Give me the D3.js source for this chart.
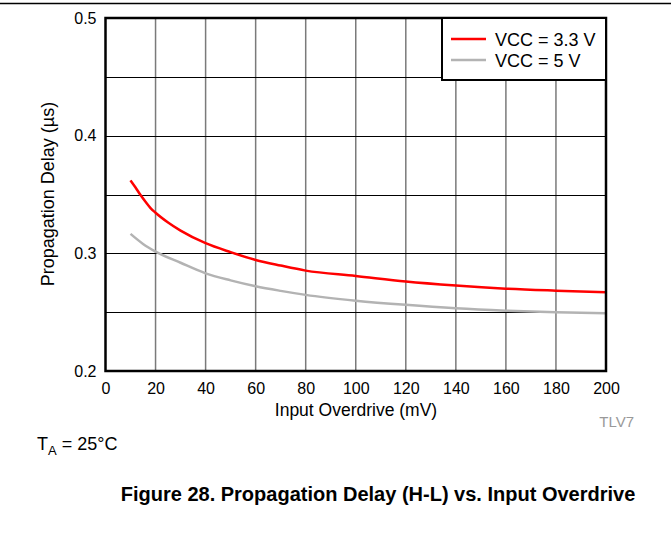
<!DOCTYPE html>
<html>
<head>
<meta charset="utf-8">
<script src="https://cdn.jsdelivr.net/npm/d3@7/dist/d3.min.js"></script>
<style>
  html, body { margin: 0; padding: 0; background: #fff; }
  svg { display: block; font-family: "Liberation Sans", Arial, sans-serif; }
</style>
</head>
<body>
<svg id="chart" width="671" height="535"></svg>
<script>
// ---- data ----
const overdrive33 = [10, 12, 14, 16, 18, 20, 25, 30, 40, 50, 60, 70, 80, 100, 120, 140, 160, 180, 200];
const delay33     = [0.362, 0.356, 0.3495, 0.3438, 0.3385, 0.3345, 0.3262, 0.3193, 0.3086, 0.301, 0.2944, 0.2896, 0.2853, 0.2808, 0.2760, 0.2726, 0.2700, 0.2683, 0.2669];
const overdrive5  = [10, 15, 20, 30, 40, 50, 60, 70, 80, 100, 120, 140, 160, 180, 200];
const delay5      = [0.3165, 0.308, 0.3015, 0.292, 0.283, 0.277, 0.2720, 0.2681, 0.2647, 0.2598, 0.2562, 0.2533, 0.2513, 0.2499, 0.2491];
const xTicks = [0, 20, 40, 60, 80, 100, 120, 140, 160, 180, 200];
const yTicks = [0.2, 0.3, 0.4, 0.5];
const yGrid  = [0.25, 0.3, 0.35, 0.4, 0.45];
const seriesNames = ["VCC = 3.3 V", "VCC = 5 V"];
const seriesColors = ["#ff0000", "#b3b3b3"];

const svg = d3.select("#chart");
const x = d3.scaleLinear().domain([0, 200]).range([105.5, 606]);
const y = d3.scaleLinear().domain([0.2, 0.5]).range([371, 18]);

// top rule
svg.append("line").attr("x1", 0).attr("x2", 671).attr("y1", 3.5).attr("y2", 3.5)
  .attr("stroke", "#000").attr("stroke-width", 1.5);

// vertical grid
svg.append("g").selectAll("line").data(xTicks.slice(1, -1)).join("line")
  .attr("x1", d => x(d)).attr("x2", d => x(d))
  .attr("y1", y(0.5)).attr("y2", y(0.2))
  .attr("stroke", "#7a7a7a").attr("stroke-width", 1.5);

// horizontal grid
svg.append("g").selectAll("line").data(yGrid).join("line")
  .attr("x1", x(0)).attr("x2", x(200))
  .attr("y1", d => Math.round(y(d)) + 0.5).attr("y2", d => Math.round(y(d)) + 0.5)
  .attr("stroke", "#000").attr("stroke-width", 1);

// curves
const line = d3.line().x(d => x(d[0])).y(d => y(d[1])).curve(d3.curveMonotoneX);
const s33 = overdrive33.map((v, i) => [v, delay33[i]]);
const s5 = overdrive5.map((v, i) => [v, delay5[i]]);
svg.append("path").datum(s5).attr("d", line).attr("fill", "none")
  .attr("stroke", seriesColors[1]).attr("stroke-width", 2.5);
svg.append("path").datum(s33).attr("d", line).attr("fill", "none")
  .attr("stroke", seriesColors[0]).attr("stroke-width", 2.5);

// frame
svg.append("rect").attr("x", x(0)).attr("y", y(0.5))
  .attr("width", x(200) - x(0)).attr("height", y(0.2) - y(0.5))
  .attr("fill", "none").attr("stroke", "#000").attr("stroke-width", 2.5);

// axes
const xAxis = svg.append("g").attr("transform", `translate(0,${y(0.2)})`)
  .call(d3.axisBottom(x).tickValues(xTicks).tickSize(0).tickPadding(12).tickFormat(d3.format("d")));
xAxis.select(".domain").remove();
xAxis.selectAll("text").attr("font-size", 16).attr("fill", "#000")
  .style("font-family", "'Liberation Sans', Arial, sans-serif");

const yAxis = svg.append("g").attr("transform", `translate(${x(0)},0)`)
  .call(d3.axisLeft(y).tickValues(yTicks).tickSize(0).tickPadding(9).tickFormat(d3.format(".1f")));
yAxis.select(".domain").remove();
yAxis.selectAll("text").attr("font-size", 16).attr("fill", "#000")
  .style("font-family", "'Liberation Sans', Arial, sans-serif");

// axis titles
svg.append("text").attr("x", 356).attr("y", 416).attr("text-anchor", "middle")
  .attr("font-size", 17.5).text("Input Overdrive (mV)");
svg.append("text").attr("transform", "translate(54,194) rotate(-90)")
  .attr("text-anchor", "middle").attr("font-size", 18).text("Propagation Delay (µs)");

// legend
const lg = svg.append("g");
lg.append("rect").attr("x", 442).attr("y", 18).attr("width", 164).attr("height", 62)
  .attr("fill", "#fff").attr("stroke", "#000").attr("stroke-width", 2);
seriesNames.forEach((n, i) => {
  const yy = 39 + i * 21;
  lg.append("line").attr("x1", 451).attr("x2", 486).attr("y1", yy).attr("y2", yy)
    .attr("stroke", seriesColors[i]).attr("stroke-width", 2.5);
  lg.append("text").attr("x", 495).attr("y", yy + 6.5).attr("font-size", 18).text(n);
});

// tag
svg.append("text").attr("x", 634).attr("y", 427).attr("text-anchor", "end")
  .attr("font-size", 15).attr("fill", "#999").text("TLV7");

// condition note
const note = svg.append("text").attr("x", 37).attr("y", 450).attr("font-size", 18);
note.append("tspan").text("T");
note.append("tspan").attr("font-size", 13).attr("dy", 5).text("A");
note.append("tspan").attr("dy", -5).text(" = 25°C");

// caption
svg.append("text").attr("x", 378).attr("y", 501).attr("text-anchor", "middle")
  .attr("font-size", 20).attr("font-weight", "bold").text("Figure 28. Propagation Delay (H-L) vs. Input Overdrive");
</script>
</body>
</html>
